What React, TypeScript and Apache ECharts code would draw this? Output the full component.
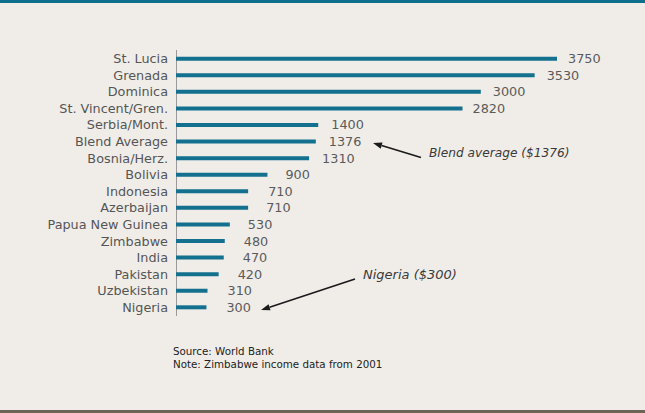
import React, { useEffect, useRef } from "react";
import * as echarts from "echarts";

const categories = [
  "St. Lucia", "Grenada", "Dominica", "St. Vincent/Gren.", "Serbia/Mont.",
  "Blend Average", "Bosnia/Herz.", "Bolivia", "Indonesia", "Azerbaijan",
  "Papua New Guinea", "Zimbabwe", "India", "Pakistan", "Uzbekistan", "Nigeria",
];
const incomes = [3750, 3530, 3000, 2820, 1400, 1376, 1310, 900, 710, 710, 530, 480, 470, 420, 310, 300];
// label gap (styling only)
const labelGaps = [11, 12, 12, 10, 13, 13, 13, 18, 20, 18, 18, 19, 19, 19, 20, 20];

const sourceLines = ["Source: World Bank", "Note: Zimbabwe income data from 2001"];
const blendNote = "Blend average ($1376)";
const nigeriaNote = "Nigeria ($300)";

const FONT = "'DejaVu Sans', sans-serif";

function arrow(x1: number, y1: number, x2: number, y2: number) {
  const ang = Math.atan2(y2 - y1, x2 - x1);
  const len = 9, w = 3.2;
  const bx = x2 - len * Math.cos(ang), by = y2 - len * Math.sin(ang);
  const px = -Math.sin(ang) * w, py = Math.cos(ang) * w;
  return [
    { type: "line", shape: { x1, y1, x2: bx, y2: by }, style: { stroke: "#1a1a1a", lineWidth: 1.6 } },
    { type: "polygon", shape: { points: [[x2, y2], [bx + px, by + py], [bx - px, by - py]] }, style: { fill: "#1a1a1a" } },
  ];
}

export default function App() {
  const ref = useRef<HTMLDivElement>(null);
  useEffect(() => {
    const chart = echarts.init(ref.current!, null, { renderer: "svg" });
    chart.setOption({
      animation: false,
      backgroundColor: "#f0ede9",
      grid: { left: 176, right: 62.6, top: 50.4, bottom: 413 - 315.6, containLabel: false },
      xAxis: { type: "value", min: 0, max: 4000, show: false },
      yAxis: {
        type: "category",
        data: categories,
        inverse: true,
        axisLine: { show: true, lineStyle: { color: "#9a9a9a", width: 1 } },
        axisTick: { show: false },
        axisLabel: { interval: 0, color: "#555", fontSize: 12.8, lineHeight: 14, fontFamily: FONT, margin: 8 },
      },
      series: [
        {
          type: "bar",
          barWidth: 4,
          itemStyle: { color: "#13708e" },
          data: incomes.map((v, i) => ({ value: v, label: { distance: labelGaps[i] } })),
          label: {
            show: true,
            position: "right",
            color: "#5a5a5a",
            fontSize: 12.8,
            lineHeight: 14,
            fontFamily: FONT,
          },
        },
      ],
      graphic: [
        { type: "rect", shape: { x: 0, y: 0, width: 645, height: 3 }, style: { fill: "#0d6e8e" } },
        { type: "rect", shape: { x: 0, y: 410, width: 645, height: 3 }, style: { fill: "#6b6553" } },
        { type: "text", x: 429, y: 153, style: { text: blendNote, fill: "#3a3a3a", fontSize: 12.2, fontStyle: "italic", fontFamily: FONT, verticalAlign: "middle" } },
        { type: "text", x: 363, y: 274, style: { text: nigeriaNote, fill: "#3a3a3a", fontSize: 13, fontStyle: "italic", fontFamily: FONT, verticalAlign: "middle" } },
        ...arrow(421, 157.5, 373, 143),
        ...arrow(355, 279, 261, 310),
        { type: "text", x: 173, y: 351, style: { text: sourceLines[0], fill: "#222", fontSize: 10.3, lineHeight: 12, fontFamily: FONT, verticalAlign: "middle" } },
        { type: "text", x: 173, y: 364, style: { text: sourceLines[1], fill: "#222", fontSize: 10.3, lineHeight: 12, fontFamily: FONT, verticalAlign: "middle" } },
      ],
    });
    return () => chart.dispose();
  }, []);
  return <div ref={ref} style={{ position: "fixed", left: 0, top: 0, width: 645, height: 413 }} />;
}
